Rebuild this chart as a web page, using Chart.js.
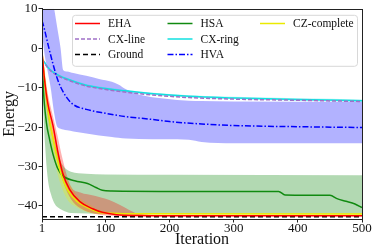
<!DOCTYPE html>
<html>
<head>
<meta charset="utf-8">
<script src="https://cdn.jsdelivr.net/npm/chart.js@4.4.0/dist/chart.umd.min.js"></script>
<style>
body { margin: 0; background: #fff; }
canvas { display: block; }
</style>
</head>
<body>
<canvas id="grafico" width="374" height="251"></canvas>
<script>
// ticks
const xTicks = [1, 100, 200, 300, 400, 500];
const yTicks = [-40, -30, -20, -10, 0, 10];

// EHA
const ehaX = [1, 5, 10, 18, 26, 33, 44, 60, 80, 95, 117, 150, 250, 500];
const ehaY = [-1, -8, -14, -19.5, -26.5, -31.5, -35.8, -38.9, -40.7, -41.6, -42.2, -42.4, -42.5, -42.5];
const ehaBandX = [1, 5, 10, 17, 25, 33, 46, 61, 83, 106, 122, 137, 150, 200, 500];
const ehaHi = [0, -6, -11.5, -16.5, -22, -28, -35, -36.6, -37.4, -38.5, -39.7, -41, -41.9, -42.3, -42.3];
const ehaLo = [-2, -10, -17, -22.5, -28.5, -33.5, -38.2, -40.6, -42, -42.5, -42.6, -42.6, -42.6, -42.6, -42.6];

// CZ-complete
const czX = [1, 5, 9, 13, 18, 23, 30, 41, 57, 77, 88, 110, 150, 500];
const czY = [-1, -8, -14, -18.5, -22.7, -26.8, -31.5, -36, -39, -40.8, -41.5, -41.85, -42, -42.05];
const czHi = [0, -5, -10.5, -15, -19.2, -23.3, -28.5, -33.5, -37.5, -39.8, -40.9, -41.55, -41.8, -41.85];
const czLo = [-2, -11, -17.5, -22, -26.2, -30.3, -34.5, -38.5, -40.5, -41.8, -42.1, -42.15, -42.2, -42.25];

// HSA
const hsaX = [1, 3, 8, 12, 18, 25, 33, 52, 72, 85, 95, 110, 200, 370, 380, 450, 462, 475, 489, 500];
const hsaY = [-1, -10, -19, -22.5, -26.8, -30.3, -32.3, -33.6, -34.3, -35.3, -36, -36.2, -36.3, -36.3, -37.2, -37.3, -38.2, -38.8, -39.5, -40.4];
const hsaBandX = [1, 3, 6, 10, 15, 21, 27, 33, 46, 70, 100, 200, 500];
const hsaHi = [0, -4, -9, -15, -20, -24, -27.5, -29.6, -31.3, -31.8, -32, -32.1, -32.2];
const hsaLo = [-1, -15, -25, -33, -37, -39.5, -40.5, -41.1, -41.8, -41.9, -42, -42, -42];

// HVA
const hvaX = [1, 5, 10, 17, 24, 30, 40, 50, 70, 100, 130, 170, 200, 250, 300, 400, 500];
const hvaY = [7, 4.7, 1.2, -3.3, -7.3, -9.8, -12.6, -14.3, -15.5, -16.5, -17.3, -18, -18.6, -19.2, -19.6, -19.9, -20.1];
const hvaBandX = [1, 5, 10, 15, 17, 20, 25, 30, 34, 40, 50, 70, 90, 110, 120, 132, 152, 194, 230, 250, 300, 500];
const hvaHi = [20, 18, 16, 14, 12.5, 10, 5, 0, -5.5, -5.9, -6.3, -7, -7.8, -8.5, -9.2, -10.4, -11.7, -12.8, -13.3, -13.4, -13.5, -13.6];
const hvaLo = [4, -1.5, -6, -10.5, -13, -16.5, -20, -20.4, -20.6, -20.8, -21.1, -21.6, -22.1, -22.5, -22.7, -22.9, -23, -23.1, -23.2, -23.8, -24.1, -24.1];

// CX-ring / CX-line
const cxX = [1, 5, 10, 17, 26, 40, 68, 90, 130, 170, 230, 300, 400, 500];
const cxRingY = [-2.8, -3.6, -4.8, -5.9, -6.8, -7.8, -9.3, -10, -10.8, -11.5, -12.2, -12.6, -13, -13.3];
const cxRingHi = [-2.5, -3.3, -4.5, -5.6, -6.5, -7.5, -9, -9.7, -10.5, -11.2, -11.9, -12.3, -12.7, -13];
const cxRingLo = [-3.1, -3.9, -5.1, -6.2, -7.1, -8.1, -9.6, -10.3, -11.1, -11.8, -12.5, -12.9, -13.3, -13.6];
const cxLineY = [-2.8, -3.8, -5, -6.1, -7, -8, -9.5, -10.2, -11.1, -11.8, -12.5, -12.9, -13.2, -13.5];

// Ground
const groundX = [1, 500];
const groundY = [-42.75, -42.75];

const ordemLegenda = ['EHA', 'CX-line', 'Ground', 'HSA', 'CX-ring', 'HVA', 'CZ-complete'];

const fonteSerif = '"Liberation Serif", "Times New Roman", serif';

function pontos(xs, ys) {
    return xs.map((x, i) => ({ x: x, y: ys[i] }));
}

function linha(label, xs, ys, cor, tracejado) {
    return {
        label: label,
        data: pontos(xs, ys),
        borderColor: cor,
        borderWidth: 1.5,
        borderDash: tracejado || [],
        pointRadius: 0,
        fill: false,
        cubicInterpolationMode: 'monotone'
    };
}

const datasets = [
    linha('EHA', ehaX, ehaY, '#ff0000'),
    linha('CZ-complete', czX, czY, '#eaea00'),
    linha('HSA', hsaX, hsaY, '#108a10'),
    linha('HVA', hvaX, hvaY, '#0000ff', [6, 2, 1.5, 2]),
    linha('CX-line', cxX, cxLineY, '#a070c8', [4, 2]),
    linha('CX-ring', cxX, cxRingY, '#10e0e0'),
    linha('Ground', groundX, groundY, '#000000', [5, 3])
];

// faixas: limite inferior + superior preenchido até o inferior
function faixa(xs, lo, hi, cor) {
    const idx = datasets.length;
    datasets.push({
        label: '',
        data: pontos(xs, lo),
        borderWidth: 0,
        pointRadius: 0,
        fill: false,
        cubicInterpolationMode: 'monotone'
    });
    datasets.push({
        label: '',
        data: pontos(xs, hi),
        borderWidth: 0,
        pointRadius: 0,
        fill: { target: idx },
        backgroundColor: cor,
        cubicInterpolationMode: 'monotone'
    });
}

faixa(ehaBandX, ehaLo, ehaHi, 'rgba(255,0,0,0.3)');
faixa(czX, czLo, czHi, 'rgba(240,240,0,0.3)');
faixa(cxX, cxRingLo, cxRingHi, 'rgba(0,220,220,0.3)');
faixa(hsaBandX, hsaLo, hsaHi, 'rgba(0,128,0,0.3)');
faixa(hvaBandX, hvaLo, hvaHi, 'rgba(0,0,255,0.3)');

const moldura = {
    id: 'moldura',
    afterDraw(chart) {
        const a = chart.chartArea;
        const ctx = chart.ctx;
        ctx.save();
        ctx.strokeStyle = '#222';
        ctx.lineWidth = 1;
        ctx.strokeRect(Math.round(a.left) + 0.5, Math.round(a.top) + 0.5,
            Math.round(a.right - a.left), Math.round(a.bottom - a.top));
        ctx.restore();
    }
};

const legendaGrade = {
    id: 'legendaGrade',
    afterDatasetsDraw(chart) {
        const ctx = chart.ctx;
        const a = chart.chartArea;
        const x0 = a.left + 30, y0 = a.top + 6, w = 285, h = 51;
        ctx.save();
        ctx.fillStyle = 'rgba(255,255,255,0.8)';
        ctx.strokeStyle = '#d8d8d8';
        ctx.lineWidth = 1;
        ctx.beginPath();
        ctx.roundRect(x0 + 0.5, y0 + 0.5, w, h, 3);
        ctx.fill();
        ctx.stroke();
        ctx.textBaseline = 'middle';
        ordemLegenda.forEach((nome, k) => {
            const ds = chart.data.datasets.find(d => d.label === nome);
            const col = Math.floor(k / 3), lin = k % 3;
            const lx = x0 + 3 + col * 92.5;
            const ly = y0 + 8.7 + lin * 15.5;
            ctx.strokeStyle = ds.borderColor;
            ctx.lineWidth = ds.borderWidth;
            ctx.setLineDash(ds.borderDash);
            ctx.beginPath();
            ctx.moveTo(lx, ly);
            ctx.lineTo(lx + 25, ly);
            ctx.stroke();
            ctx.setLineDash([]);
            ctx.font = '11.5px ' + fonteSerif;
            ctx.fillStyle = '#111';
            ctx.fillText(nome, lx + 33, ly + 0.5);
        });
        ctx.restore();
    }
};

Chart.defaults.font.family = fonteSerif;
Chart.defaults.font.size = 13;
Chart.defaults.color = '#111';

const config = {
    type: 'line',
    data: { datasets: datasets },
    options: {
        responsive: false,
        animation: false,
        devicePixelRatio: 1,
        layout: { padding: { left: 0, right: 12, top: 0, bottom: 0 } },
        plugins: {
            legend: { display: false },
            tooltip: { enabled: false }
        },
        scales: {
            x: {
                type: 'linear',
                min: 1,
                max: 500,
                afterBuildTicks: (axis) => { axis.ticks = xTicks.map(v => ({ value: v })); },
                afterFit: (axis) => { axis.height = 32; },
                ticks: { maxRotation: 0, padding: -2 },
                grid: { display: true, drawOnChartArea: false, tickLength: 3.5, color: '#222' },
                border: { display: true, color: '#222' },
                title: { display: true, text: 'Iteration', font: { size: 16 }, padding: { top: 0, bottom: 2 } }
            },
            y: {
                min: -43.3,
                max: 10,
                afterBuildTicks: (axis) => { axis.ticks = yTicks.map(v => ({ value: v })); },
                afterFit: (axis) => { axis.width = 42; },
                ticks: { padding: 1, callback: (v) => String(v).replace('-', '\u2212') },
                grid: { display: true, drawOnChartArea: false, tickLength: 3.5, color: '#222' },
                border: { display: true, color: '#222' },
                title: { display: true, text: 'Energy', font: { size: 16 }, padding: { top: 0, bottom: 0 } }
            }
        }
    },
    plugins: [legendaGrade, moldura]
};

const grafico = new Chart(document.getElementById('grafico'), config);
</script>
</body>
</html>
